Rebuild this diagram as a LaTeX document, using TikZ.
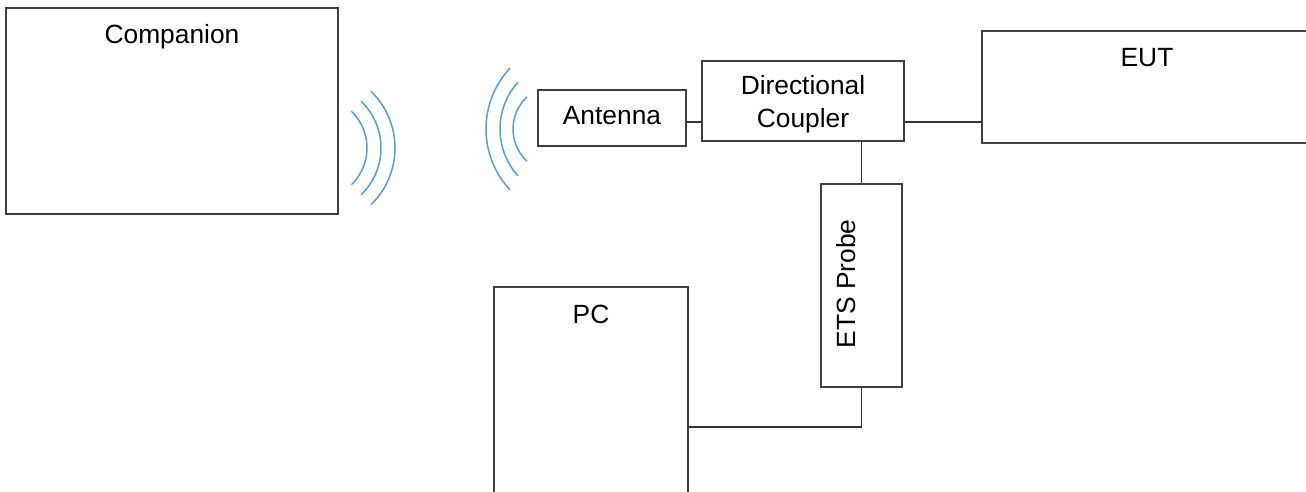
\documentclass[tikz,border=0pt]{standalone}
\usepackage{fontspec}
\setmainfont{Liberation Sans}
\definecolor{waveblue}{HTML}{5B9BD5}
\begin{document}
\begin{tikzpicture}
	[
		x=0.02cm, y=0.02cm,
		font=\fontsize{15}{18.7}\selectfont
	]
	
	\tikzstyle{Box} = [
		rectangle, 
		inner sep=0pt,
		draw=black!75, 
		line width=0.85pt
	]
	\tikzstyle{Link} = [draw=black!80, line width=0.6pt]
	\tikzstyle{Wave} = [draw=waveblue, line width=0.85pt]
	
	\useasboundingbox (0,0) rectangle (1306,-492);
	\clip (0,0) rectangle (1306,-492);
	
	% boxes
	\node [Box, minimum width=6.64cm, minimum height=4.12cm] (companion) at (172,-111) {};
	\node [Box, minimum width=2.96cm, minimum height=1.12cm] (antenna) at (612,-118) {};
	\node [Box, minimum width=4.04cm, minimum height=1.6cm] (coupler) at (803,-101) {};
	\node [Box, minimum width=6.6cm, minimum height=2.24cm] (eut) at (1147,-87) {};
	\node [Box, minimum width=1.62cm, minimum height=4.06cm] (probe) at (861.5,-285.5) {};
	\node [Box, minimum width=3.88cm, minimum height=5.6cm] (pc) at (591,-427) {};
	
	% labels
	\node (companiontext) at ([yshift=-0.58cm]companion.north) {Companion};
	\node (antennatext) at ([yshift=0.04cm]antenna.center) {Antenna};
	\node [align=center] (couplertext) at ([yshift=-0.06cm]coupler.center) {Directional\\Coupler};
	\node (euttext) at ([yshift=-0.55cm]eut.north) {EUT};
	\node (pctext) at ([yshift=-0.56cm]pc.north) {PC};
	\node [rotate=90] (probetext) at (846,-284) {ETS Probe};
	
	% connections
	\coordinate (rf) at (0,-122);
	\draw [Link] (antenna.east |- rf) -- (coupler.west |- rf);
	\draw [Link] (coupler.east |- rf) -- (eut.west |- rf);
	\draw [Link] (coupler.south -| probe.north) -- (probe.north);
	\draw [Link] (probe.south) |- (pc.east);
	
	% radio waves
	\foreach \r in {51,65,79}
		\draw [Wave] ([shift={(-46:\r)}]316,-148) arc [start angle=-46, end angle=46, radius=\r];
	\foreach \cx/\r/\a in {557/44/47, 570/70/42, 575/89/43}
		\draw [Wave] ([shift={(180-\a:\r)}]\cx,-129) arc [start angle=180-\a, end angle=180+\a, radius=\r];
\end{tikzpicture}
\end{document}
